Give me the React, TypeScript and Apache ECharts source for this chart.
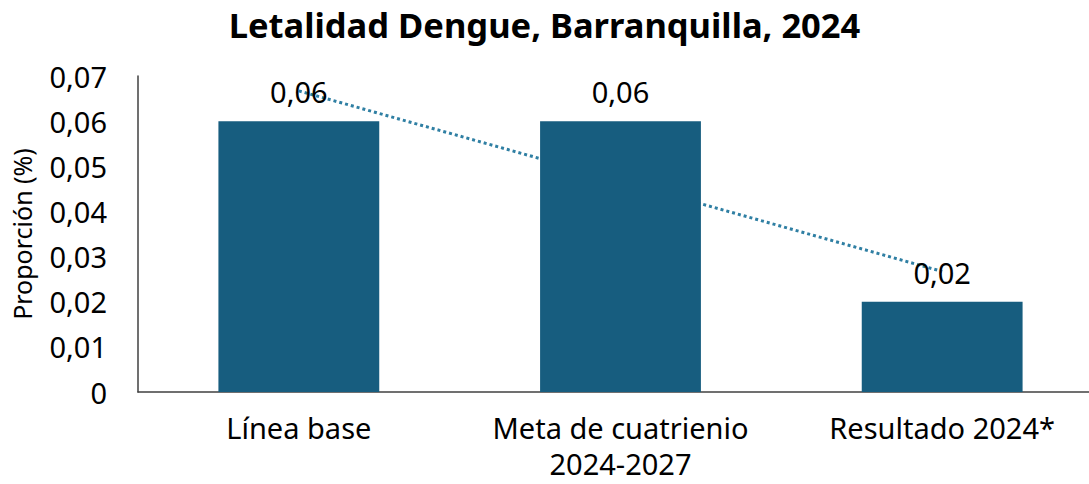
import React, { useEffect, useRef } from "react";
import * as echarts from "echarts";

const titleText = "Letalidad Dengue, Barranquilla, 2024";
const categories = ["Línea base", "Meta de cuatrienio\n2024-2027", "Resultado 2024*"];
const barValues = [0.06, 0.06, 0.02];
const trendValues = [0.0667, 0.0467, 0.0267];
const yTicksMax = 0.07;
const yTickStep = 0.01;
const yAxisName = "Proporción (%)";

const fmt = (v: number) => (v === 0 ? "0" : v.toFixed(2).replace(".", ","));

export default function App() {
  const ref = useRef<HTMLDivElement>(null);
  useEffect(() => {
    if (!ref.current) return;
    const chart = echarts.init(ref.current, null, { renderer: "svg" });
    const font = "'Noto Sans', sans-serif";
    chart.setOption({
      animation: false,
      backgroundColor: "#ffffff",
      title: {
        text: titleText,
        left: "center",
        top: 2,
        textStyle: { fontFamily: font, fontSize: 34.5, fontWeight: "bold", color: "#000000" },
      },
      grid: {
        left: 138,
        top: 76,
        width: 965,
        height: 316,
        containLabel: false,
        outerBoundsMode: "none",
      },
      xAxis: {
        type: "category",
        data: categories,
        axisLine: { show: true, lineStyle: { color: "#404040", width: 1.5 } },
        axisTick: { show: false },
        axisLabel: {
          fontFamily: font,
          fontSize: 29,
          color: "#000000",
          margin: 17,
          lineHeight: 36,
          interval: 0,
        },
      },
      yAxis: {
        type: "value",
        min: 0,
        max: yTicksMax,
        interval: yTickStep,
        name: yAxisName,
        nameLocation: "middle",
        nameGap: 104,
        nameTextStyle: { fontFamily: font, fontSize: 25, color: "#000000" },
        axisLine: { show: true, lineStyle: { color: "#404040", width: 1.5 } },
        axisTick: { show: false },
        splitLine: { show: false },
        axisLabel: {
          fontFamily: font,
          fontSize: 29,
          color: "#000000",
          margin: 31,
          formatter: (v: number) => fmt(v),
        },
      },
      series: [
        {
          type: "line",
          data: trendValues,
          z: 1,
          symbol: "none",
          lineStyle: { type: "dotted", width: 3, color: "#2f7fa3" },
          silent: true,
        },
        {
          type: "bar",
          data: barValues,
          z: 2,
          barWidth: "50%",
          itemStyle: { color: "#175d7f" },
          label: {
            show: true,
            position: "top",
            distance: 15,
            fontFamily: font,
            fontSize: 29,
            color: "#000000",
            formatter: (p: any) => fmt(p.value),
          },
        },
      ],
    });
    return () => chart.dispose();
  }, []);
  return (
    <div
      ref={ref}
      style={{ position: "fixed", left: 0, top: 0, width: 1089, height: 484 }}
    />
  );
}
